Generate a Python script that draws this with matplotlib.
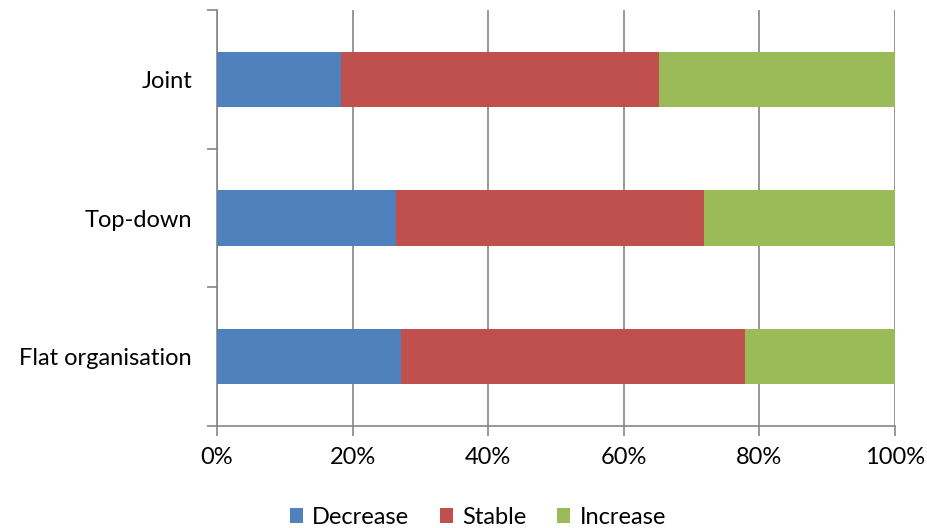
import matplotlib.pyplot as plt
import numpy as np
from matplotlib.ticker import PercentFormatter

plt.rcParams["font.family"] = ["Lato", "DejaVu Sans"]

# Share of responses per structure type (percent)
categories = ["Flat organisation", "Top-down", "Joint"]
decrease = [27.1, 26.4, 18.3]
stable = [50.8, 45.4, 46.9]
increase = [22.1, 28.2, 34.8]

series = [
    ("Decrease", decrease, "#4F81BD"),
    ("Stable", stable, "#C0504D"),
    ("Increase", increase, "#9BBB59"),
]

AXIS_GRAY = "#868686"

fig = plt.figure(figsize=(9.28, 5.28), dpi=100)
ax = fig.add_axes([0.2338, 0.1932, 0.7306, 0.7878])

y = np.arange(len(categories))
left = np.zeros(len(categories))
for label, values, color in series:
    vals = np.array(values)
    ax.barh(y, vals, left=left, height=0.4, color=color, label=label, zorder=3)
    left += vals

ax.set_xlim(0, 100)
ax.set_ylim(-0.5, len(categories) - 0.5)
ax.set_xticks(np.arange(0, 101, 20))
ax.xaxis.set_major_formatter(PercentFormatter(decimals=0))
ax.grid(axis="x", color=AXIS_GRAY, linewidth=1.2, zorder=0)

# Category labels sit between the tick marks that bound each band
ax.set_yticks(np.arange(-0.5, len(categories), 1.0))
ax.set_yticklabels([])
ax.set_yticks(y, minor=True)
ax.set_yticklabels(categories, minor=True)
ax.tick_params(axis="y", which="minor", length=0, pad=18)
ax.tick_params(axis="y", which="major", length=7, color=AXIS_GRAY, width=1.2)
ax.tick_params(axis="x", length=7, color=AXIS_GRAY, width=1.2, pad=8)
ax.tick_params(which="both", labelsize=17, labelcolor="black")

for side in ("top", "right"):
    ax.spines[side].set_visible(False)
for side in ("left", "bottom"):
    ax.spines[side].set_color(AXIS_GRAY)
    ax.spines[side].set_linewidth(1.2)

fig.legend(
    loc="lower center",
    bbox_to_anchor=(0.515, -0.04),
    ncol=3,
    frameon=False,
    fontsize=17,
    handlelength=0.55,
    handleheight=0.55,
    handletextpad=0.4,
    columnspacing=1.3,
)

fig.savefig("out.png", dpi=100)
